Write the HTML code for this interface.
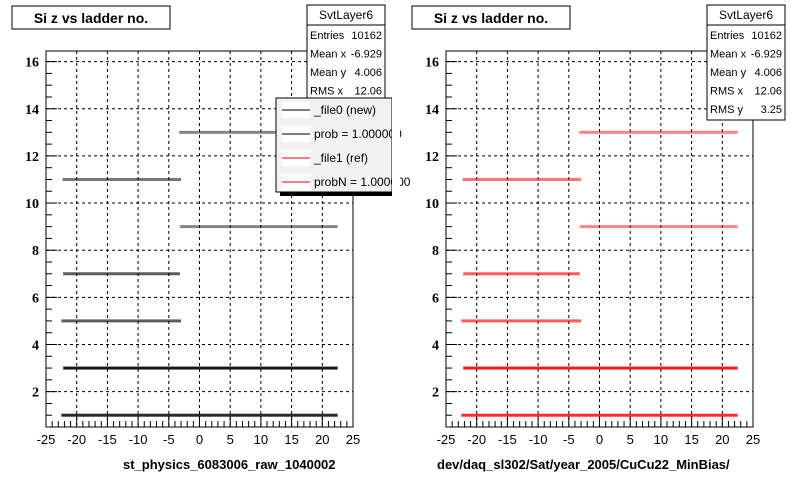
<!DOCTYPE html>
<html><head><meta charset="utf-8"><style>
body{margin:0;background:#fff;}
svg{display:block;font-family:"Liberation Sans",Arial,sans-serif;}
</style></head><body>
<svg id="c" width="800" height="480" viewBox="0 0 800 480"></svg>
<script>
const ladders=[1,3,5,7,9,11,13];
const xStart=[-22.5,-22.2,-22.5,-22.2,-3.2,-22.3,-3.3];
const xEnd=[22.5,22.5,-3,-3.2,22.5,-3,22.5];
const bandWeight=[0.9,1.0,0.6,0.6,0.35,0.45,0.35];
const xTicks=[-25,-20,-15,-10,-5,0,5,10,15,20,25];
const yTicks=[2,4,6,8,10,12,14,16];
const statLabels=["Entries","Mean x","Mean y","RMS x","RMS y"];
const statValues=["10162","-6.929","4.006","12.06","3.25"];
const legendLabels=["_file0 (new)","prob = 1.000000","_file1 (ref)","probN = 1.000000"];
const legendColors=["#000","#000","#f00","#f00"];
const xTitles=["st_physics_6083006_raw_1040002","dev/daq_sl302/Sat/year_2005/CuCu22_MinBias/"];

const NS="http://www.w3.org/2000/svg";
const svg=document.getElementById('c');
function mk(t,a,p){const e=document.createElementNS(NS,t);for(const k in a)e.setAttribute(k,a[k]);(p||svg).appendChild(e);return e;}

function panel(ox,color,idx){
  const g=mk('g',{});
  
  
  const L=ox+46,R=ox+353,T=51,B=427;
  const sx=v=>L+(v+25)/50*(R-L);
  const sy=v=>B-(v-0.5)/16*(B-T)*(16/15.95);
  const tb=mk('rect',{x:ox+12,y:6,width:158,height:23,fill:'#fff',stroke:'#000','stroke-width':1},g);
  
  
  const tt=mk('text',{x:ox+91,y:23,'text-anchor':'middle','font-size':14,'font-weight':'bold'},g);
  tt.textContent='Si z vs ladder no.';
  
  
  const fr=mk('rect',{x:L,y:T,width:R-L,height:B-T,fill:'#fff',stroke:'#000','stroke-width':1},g);
  
  
  xTicks.forEach(v=>{if(v>-25&&v<25){const l=mk('line',{x1:sx(v),x2:sx(v),y1:T,y2:B,stroke:'#000','stroke-dasharray':'3,3','stroke-width':1},g);}});
  yTicks.forEach(v=>{const l=mk('line',{x1:L,x2:R,y1:sy(v),y2:sy(v),stroke:'#000','stroke-dasharray':'3,3','stroke-width':1},g);});
  for(let v=-25;v<=25;v++){const maj=v%5===0;mk('line',{x1:sx(v),x2:sx(v),y1:B,y2:B-(maj?11:6),stroke:'#000'},g);}
  for(let v=1;v<=16.4;v+=0.5){const maj=Math.abs(v%2)<0.01;mk('line',{x1:L,x2:L+(maj?11:6),y1:sy(v),y2:sy(v),stroke:'#000'},g);}
  xTicks.forEach(v=>{const t=mk('text',{x:sx(v),y:444,'text-anchor':'middle','font-size':13},g);t.textContent=v;});
  yTicks.forEach(v=>{const t=mk('text',{x:L-7,y:sy(v)+5,'text-anchor':'end','font-size':14,'font-weight':'bold','font-family':'Liberation Serif,serif'},g);t.textContent=v;});
  const xt=mk('text',{x:idx?ox+37:ox+123,y:469,'font-size':13,'font-weight':'bold'},g);
  xt.textContent=xTitles[idx];
  
  
  ladders.forEach((y,i)=>{
    const b=mk('rect',{x:sx(xStart[i]),y:sy(y)-1.5,width:sx(xEnd[i])-sx(xStart[i]),height:3,fill:color,opacity:0.25+0.65*bandWeight[i]},g);
    
    
  });
  const sb=mk('g',{},g);
  
  
  const rows=idx?5:4;
  mk('rect',{x:ox+307,y:5,width:78,height:20+rows*19,fill:'#fff',stroke:'#000'},sb);
  mk('line',{x1:ox+307,x2:ox+385,y1:25,y2:25,stroke:'#000'},sb);
  const st=mk('text',{x:ox+346,y:19,'text-anchor':'middle','font-size':12},sb);st.textContent='SvtLayer6';
  for(let i=0;i<rows;i++){
    const a=mk('text',{x:ox+310,y:39+i*18.5,'font-size':11},sb);a.textContent=statLabels[i];
    const b=mk('text',{x:ox+382,y:39+i*18.5,'text-anchor':'end','font-size':11},sb);b.textContent=statValues[i];
  }
}
panel(0,'#000',0);
panel(400,'#f00',1);
const lg=mk('g',{});


mk('rect',{x:280,y:100,width:114,height:96,fill:'#000'},lg);
mk('rect',{x:276,y:98,width:116,height:94,fill:'#f2f2f2',stroke:'#000'},lg);
legendLabels.forEach((s,i)=>{
  const y=110+i*24;
  mk('rect',{x:282,y:y-8,width:28,height:16,fill:'#fff'},lg);
  const ln=mk('line',{x1:282,x2:310,y1:y,y2:y,stroke:legendColors[i],'stroke-width':1},lg);
  
  
  const t=mk('text',{x:314,y:y+4,'font-size':12},lg);t.textContent=s;
  
  
});
mk('rect',{x:392,y:95,width:8,height:105,fill:'#fff'},lg);
</script>
</body></html>
